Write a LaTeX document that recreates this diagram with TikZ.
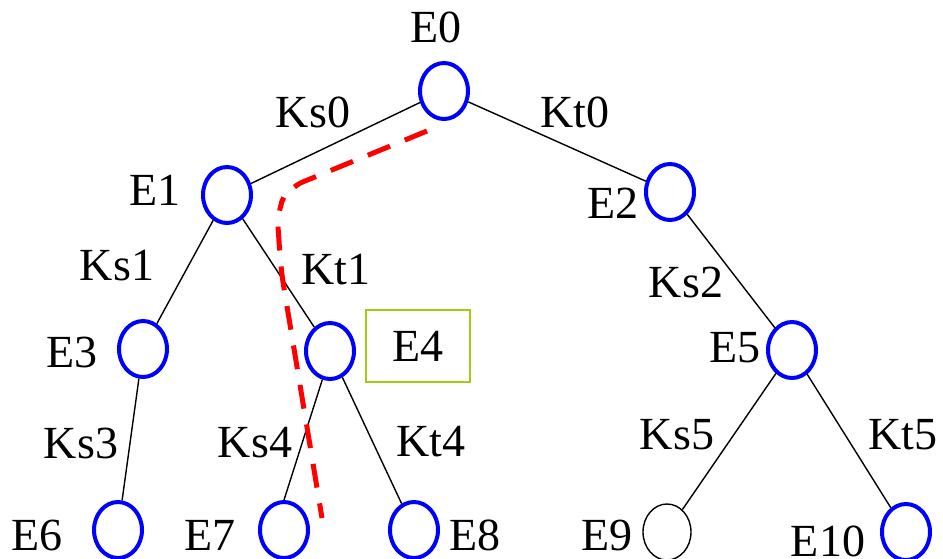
\documentclass[tikz,border=0pt]{standalone}
\usepackage{fontspec}
\setmainfont{LiberationSerif}[Extension=.ttf, UprightFont=*-Regular, BoldFont=*-Bold, ItalicFont=*-Italic, BoldItalicFont=*-BoldItalic]
\usetikzlibrary{shapes.geometric}
\definecolor{boxgreen}{RGB}{160,204,20}
\tikzset{
  ev/.style={ellipse, draw=blue, line width=2pt, minimum width=24pt, minimum height=28pt, inner sep=0pt},
  evblack/.style={ev, draw=black, line width=0.7pt},
  lbl/.style={font=\fontsize{23}{27}\selectfont, inner sep=0pt},
  hl/.style={rectangle, draw=boxgreen, line width=1pt, minimum width=52pt, minimum height=36pt, font=\fontsize{23}{27}\selectfont},
  edge/.style={draw=black, line width=0.7pt},
  trace/.style={draw=red, line width=2.5pt, dash pattern=on 12pt off 8pt, rounded corners=8pt},
}

\begin{document}
\begin{tikzpicture}[x=0.5pt, y=-0.5pt]
\useasboundingbox (0,0) rectangle (943,558);
% event nodes
\node[ev] (e0) at (444,91) {};
\node[ev] (e1) at (227,195) {};
\node[ev] (e2) at (670,192) {};
\node[ev] (e3) at (143,349) {};
\node[ev] (e4) at (330,351) {};
\node[ev] (e5) at (792,350) {};
\node[ev] (e6) at (118,530) {};
\node[ev] (e7) at (284,530) {};
\node[ev] (e8) at (414,530) {};
\node[evblack] (e9) at (667,532) {};
\node[ev] (e10) at (906,532) {};
\node[hl] (box4) at (418,346) {E4};
% node labels
\node[lbl] (l0) at (436,27) {E0};
\node[lbl] (l1) at (155,190) {E1};
\node[lbl] (l2) at (613,203) {E2};
\node[lbl] (l3) at (72,352) {E3};
\node[lbl] (l5) at (735,348) {E5};
\node[lbl] (l6) at (37,535) {E6};
\node[lbl] (l7) at (210,535) {E7};
\node[lbl] (l8) at (475,535) {E8};
\node[lbl] (l9) at (607,535) {E9};
\node[lbl] (l10) at (828,541) {E10};
% edges
\draw[edge] (e0)--(e1);
\draw[edge] (e0)--(e2);
\draw[edge] (e1)--(e3);
\draw[edge] (e1)--(e4);
\draw[edge] (e2)--(e5);
\draw[edge] (e3)--(e6);
\draw[edge] (e4.255)--(e7.north);
\draw[edge] (e4)--(e8);
\draw[edge] (e5)--(e9);
\draw[edge] (e5)--(e10);
% edge labels
\node[lbl] (ks0) at (313,112) {Ks0};
\node[lbl] (kt0) at (575,112) {Kt0};
\node[lbl] (ks1) at (117,266) {Ks1};
\node[lbl] (kt1) at (336,270) {Kt1};
\node[lbl] (ks2) at (686,282) {Ks2};
\node[lbl] (ks3) at (81,443) {Ks3};
\node[lbl] (ks4) at (255,443) {Ks4};
\node[lbl] (kt4) at (431,442) {Kt4};
\node[lbl] (ks5) at (677,435) {Ks5};
\node[lbl] (kt5) at (903,435) {Kt5};
% red trace
\coordinate (t0) at (427,131);
\coordinate (t1) at (322,518);
\draw[trace] (t0)--(288,188)--(277,212)--(281,270)--(t1);
\end{tikzpicture}
\end{document}
